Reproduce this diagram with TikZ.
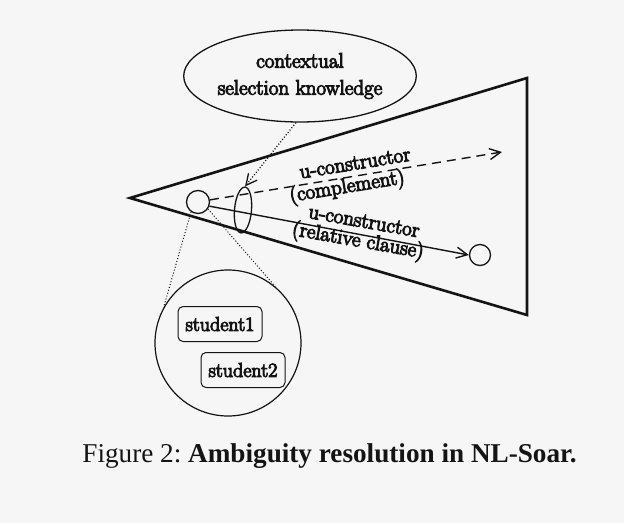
\documentclass[tikz,border=0pt]{standalone}
\usepackage{fontspec}
\newfontfamily\capfont{Liberation Serif}
\newfontfamily\dfont{Latin Modern Roman}[FakeBold=5]
\usetikzlibrary{shapes.geometric,arrows.meta}
\definecolor{bgc}{rgb}{0.965,0.965,0.965}
\definecolor{ink}{rgb}{0.08,0.08,0.08}
\begin{document}
\begin{tikzpicture}[x=1pt,y=-1pt, color=ink,
  lbl/.style={font=\dfont\fontsize{21}{25}\selectfont, text=ink, inner sep=0pt},
  tip/.style={-{Straight Barb[length=11pt,width=11pt,line width=1.4pt]}},
  conn/.style={line width=1.4pt},
  dots/.style={line width=1pt, dotted},
  stud/.style={lbl, draw=ink, line width=1pt, rounded corners=5pt, minimum width=84pt, minimum height=35pt}]
\fill[bgc] (0,0) rectangle (624,523);
\useasboundingbox (0,0) rectangle (624,523);
% triangle
\draw[line width=2.6pt, line join=miter] (130,198) -- (527,78) -- (527,315) -- cycle;
% nodes
\node[ellipse, draw=ink, line width=1.3pt, minimum width=187pt, minimum height=92pt, inner sep=0pt,
      lbl, align=center, font=\dfont\fontsize{21}{27}\selectfont] (ctx) at (300,76) {contextual\\selection knowledge};
\node[circle, draw=ink, line width=1.3pt, minimum size=23pt, inner sep=0pt] (sc) at (198,202) {};
\node[ellipse, draw=ink, line width=1.3pt, minimum width=17pt, minimum height=46pt, inner sep=0pt, rotate=-5] (se) at (243,210) {};
\node[circle, draw=ink, line width=1.3pt, minimum size=21pt, inner sep=0pt] (rc) at (480,255) {};
\coordinate (dend) at (502,152);
\node[circle, draw=ink, line width=1.2pt, minimum size=146pt, inner sep=0pt] (zoom) at (228,343) {};
\node[stud, font=\dfont\fontsize{20}{24}\selectfont] (s1) at (220,324) {student1};
\node[stud, font=\dfont\fontsize{20}{24}\selectfont] (s2) at (243,370) {student2};
% connectors
\draw[conn, tip, dashed, dash pattern=on 9pt off 6pt] (sc.10) -- (dend);
\draw[conn, tip] (sc.-20) -- (rc.west);
\draw[dots, line width=1.3pt, -{Straight Barb[length=11pt,width=11pt,line width=1.3pt]}] (ctx.265) -- (se.north);
\draw[dots] (sc.235) -- (zoom.151);
\draw[dots] (sc.-35) -- (zoom.50);
% labels
\node[lbl, rotate=9.3, anchor=base] (l1) at (356,169.5) {u-constructor};
\node[lbl, rotate=9.3, anchor=base] (l2) at (348,192.5) {(complement)};
\node[lbl, rotate=-10, anchor=base] (l3) at (363,227.5) {u-constructor};
\node[lbl, rotate=-10, anchor=base] (l4) at (357,246.5) {(relative clause)};
% caption
\node[anchor=base, inner sep=0pt, text=ink, font=\capfont\fontsize{27.2}{30}\selectfont] (cap) at (329.5,462)
  {Figure 2:\ \textbf{Ambiguity resolution in NL-Soar.}};
\end{tikzpicture}
\end{document}
